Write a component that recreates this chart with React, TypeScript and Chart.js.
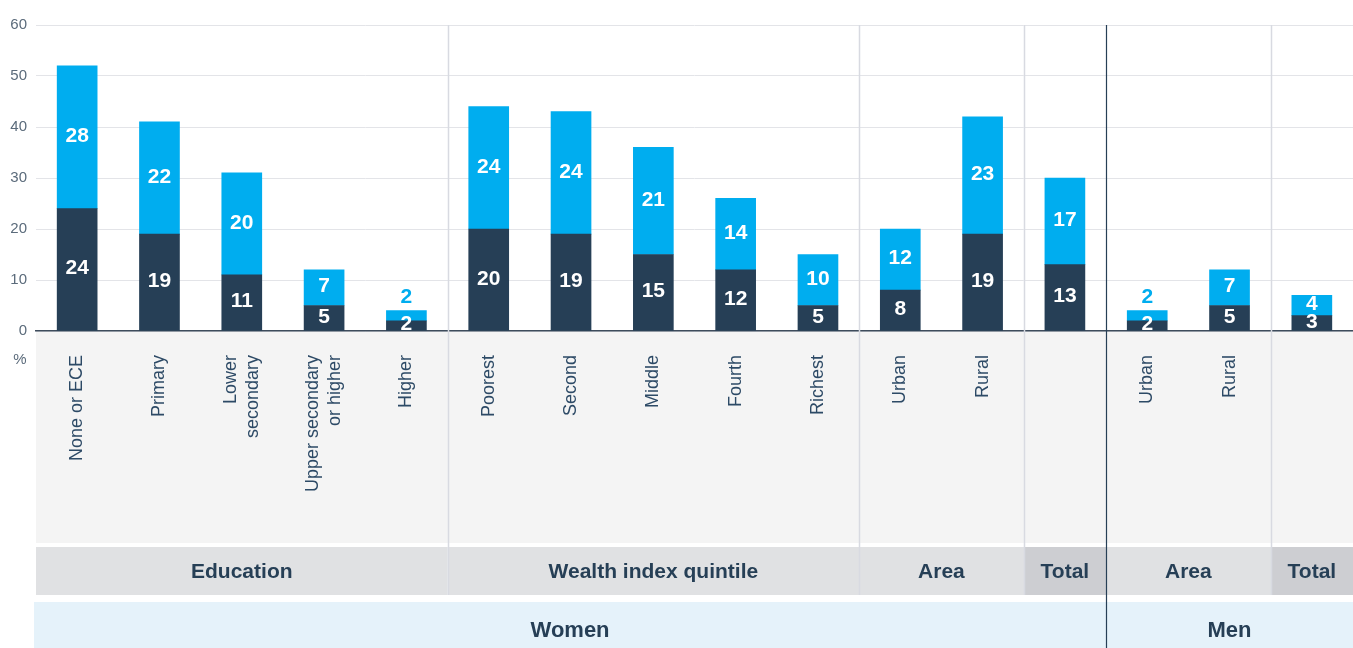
import React, { useEffect, useRef } from "react";
import { Chart, registerables } from "chart.js";

Chart.register(...registerables);

// ---------- data ----------
const categories: string[][] = [
  ["None or ECE"],
  ["Primary"],
  ["Lower", "secondary"],
  ["Upper secondary", "or higher"],
  ["Higher"],
  ["Poorest"],
  ["Second"],
  ["Middle"],
  ["Fourth"],
  ["Richest"],
  ["Urban"],
  ["Rural"],
  [""],
  ["Urban"],
  ["Rural"],
  [""],
];
const lowerValues = [24, 19, 11, 5, 2, 20, 19, 15, 12, 5, 8, 19, 13, 2, 5, 3];
const upperValues = [28, 22, 20, 7, 2, 24, 24, 21, 14, 10, 12, 23, 17, 2, 7, 4];
const yMin = 0;
const yMax = 60;
const yStep = 10;
const unitLabel = "%";

const groupLabels = ["Education", "Wealth index quintile", "Area", "Total", "Area", "Total"];
const groupStarts = [0, 5, 10, 12, 13, 15];
const groupEnds = [4, 9, 11, 12, 14, 15];
const groupIsTotal = [false, false, false, true, false, true];

const sexLabels = ["Women", "Men"];
const sexStarts = [0, 13];
const sexEnds = [12, 15];

// ---------- style ----------
const DARK = "#263f56";
const LIGHT = "#00adef";
const TEXT_NAVY = "#263f56";
const TICK_GREY = "#5b6b7b";
const NARROW = "'Liberation Sans Narrow', 'Liberation Sans', Arial, sans-serif";
const SANS = "'Liberation Sans', Arial, sans-serif";

const W = 1353;
const H = 648;

export default function App() {
  const canvasRef = useRef<HTMLCanvasElement | null>(null);

  useEffect(() => {
    document.body.style.margin = "0";
    let chart: Chart | null = null;
    let cancelled = false;

    const build = () => {
      if (cancelled || !canvasRef.current) return;
      const n = categories.length;

      const edges = (c: Chart) => {
        const x = c.scales.x;
        const area = c.chartArea;
        const half = (x.getPixelForValue(1) - x.getPixelForValue(0)) / 2;
        const left = (i: number) => (i === 0 ? area.left : x.getPixelForValue(i) - half);
        const right = (i: number) => (i === n - 1 ? area.right : x.getPixelForValue(i) + half);
        return { left, right };
      };

      const layoutPlugin = {
        id: "layoutBands",
        beforeDraw(c: Chart) {
          const { ctx, chartArea } = c;
          const { left, right } = edges(c);
          const labelTop = chartArea.bottom + 1;
          const labelBottom = chartArea.bottom + 212;
          const headTop = labelBottom + 4;
          const headBottom = headTop + 48;
          const sexTop = headBottom + 7;
          ctx.save();
          ctx.fillStyle = "#f4f4f4";
          ctx.fillRect(chartArea.left, labelTop, chartArea.right - chartArea.left, labelBottom - labelTop);
          for (let g = 0; g < groupLabels.length; g++) {
            ctx.fillStyle = groupIsTotal[g] ? "#cdced2" : "#e0e1e3";
            const l = left(groupStarts[g]);
            const r = right(groupEnds[g]);
            ctx.fillRect(l, headTop, r - l, headBottom - headTop);
          }
          ctx.fillStyle = "#e5f2fa";
          ctx.fillRect(chartArea.left - 2, sexTop, chartArea.right - chartArea.left + 2, H - sexTop);
          ctx.restore();
        },
        beforeDatasetsDraw(c: Chart) {
          const { ctx, chartArea } = c;
          const { left } = edges(c);
          const headBottom = chartArea.bottom + 212 + 4 + 48;
          ctx.save();
          for (let g = 1; g < groupLabels.length; g++) {
            const xPos = Math.round(left(groupStarts[g])) + 0.5;
            const isSexBoundary = sexStarts.indexOf(groupStarts[g]) > 0;
            ctx.beginPath();
            if (isSexBoundary) {
              ctx.strokeStyle = DARK;
              ctx.lineWidth = 1.2;
              ctx.moveTo(xPos, chartArea.top);
              ctx.lineTo(xPos, H);
            } else {
              ctx.strokeStyle = "#d8dae1";
              ctx.lineWidth = 1.5;
              ctx.moveTo(xPos, chartArea.top);
              ctx.lineTo(xPos, headBottom);
            }
            ctx.stroke();
          }
          ctx.restore();
        },
        afterDraw(c: Chart) {
          const { ctx, chartArea } = c;
          const x = c.scales.x;
          const { left, right } = edges(c);
          ctx.save();

          // value labels
          const metaLow = c.getDatasetMeta(0);
          const metaUp = c.getDatasetMeta(1);
          ctx.textAlign = "center";
          ctx.textBaseline = "middle";
          ctx.font = `bold 21px ${SANS}`;
          metaLow.data.forEach((bar: any, i: number) => {
            const p = bar.getProps(["x", "y", "base"], true);
            ctx.fillStyle = "#ffffff";
            ctx.fillText(String(lowerValues[i]), p.x, (p.y + p.base) / 2 - 1);
          });
          metaUp.data.forEach((bar: any, i: number) => {
            const p = bar.getProps(["x", "y", "base"], true);
            const h = p.base - p.y;
            if (h < 15) {
              ctx.fillStyle = LIGHT;
              ctx.fillText(String(upperValues[i]), p.x, p.y - 13);
            } else {
              ctx.fillStyle = "#ffffff";
              ctx.fillText(String(upperValues[i]), p.x, (p.y + p.base) / 2 - 1);
            }
          });

          // category labels (rotated)
          ctx.fillStyle = "#2d4a66";
          ctx.font = `18px ${SANS}`;
          ctx.textAlign = "right";
          ctx.textBaseline = "middle";
          const lh = 22;
          categories.forEach((lines, i) => {
            const px = x.getPixelForValue(i);
            ctx.save();
            ctx.translate(px, chartArea.bottom + 24);
            ctx.rotate(-Math.PI / 2);
            lines.forEach((line, j) => {
              ctx.fillText(line, 0, (j - (lines.length - 1) / 2) * lh);
            });
            ctx.restore();
          });

          // unit label
          ctx.fillStyle = TICK_GREY;
          ctx.font = `15px ${NARROW}`;
          ctx.textAlign = "center";
          ctx.fillText(unitLabel, 20, chartArea.bottom + 29);

          // group headers
          const headMid = chartArea.bottom + 212 + 4 + 24;
          ctx.fillStyle = TEXT_NAVY;
          ctx.font = `bold 21px ${SANS}`;
          for (let g = 0; g < groupLabels.length; g++) {
            const l = left(groupStarts[g]);
            const r = right(groupEnds[g]);
            ctx.fillText(groupLabels[g], (l + r) / 2, headMid + 1);
          }
          // sex headers
          const sexMid = chartArea.bottom + 212 + 4 + 48 + 7 + 23;
          ctx.font = `bold 22px ${SANS}`;
          for (let s = 0; s < sexLabels.length; s++) {
            const l = s === 0 ? chartArea.left - 2 : left(sexStarts[s]);
            const r = right(sexEnds[s]);
            ctx.fillText(sexLabels[s], (l + r) / 2, sexMid + 6);
          }
          ctx.restore();
        },
      };

      chart = new Chart(canvasRef.current, {
        type: "bar",
        data: {
          labels: categories.map((c) => c.join(" ")),
          datasets: [
            { label: "lower", data: lowerValues, backgroundColor: DARK, barThickness: 40 },
            { label: "upper", data: upperValues, backgroundColor: LIGHT, barThickness: 40 },
          ],
        },
        options: {
          responsive: false,
          animation: false,
          devicePixelRatio: 1,
          layout: { padding: { top: 25, right: 0, left: 0, bottom: 0 } },
          plugins: { legend: { display: false }, tooltip: { enabled: false } },
          scales: {
            x: {
              stacked: true,
              grid: { display: false },
              border: { display: true, color: "#3e4c5c", width: 1.5 },
              ticks: { display: false },
              afterFit: (s: any) => {
                s.height = H - 331 - 25 + 25;
              },
            },
            y: {
              stacked: true,
              min: yMin,
              max: yMax,
              ticks: {
                stepSize: yStep,
                padding: 9,
                color: TICK_GREY,
                font: { family: NARROW, size: 15 },
              },
              grid: { color: "#e3e4e8", drawTicks: false, lineWidth: 1 },
              border: { display: false },
              afterFit: (s: any) => {
                s.width = 36;
              },
            },
          },
        },
        plugins: [layoutPlugin],
      });
    };

    const fontsApi = (document as any).fonts;
    if (fontsApi && fontsApi.load) {
      Promise.all([
        fontsApi.load(`bold 21px ${SANS}`),
        fontsApi.load(`18px ${SANS}`),
        fontsApi.load(`15px ${NARROW}`),
      ])
        .catch(() => null)
        .then(build);
    } else {
      build();
    }

    return () => {
      cancelled = true;
      if (chart) chart.destroy();
    };
  }, []);

  return (
    <div style={{ width: W, height: H, position: "relative" }}>
      <canvas ref={canvasRef} width={W} height={H} style={{ display: "block" }} />
    </div>
  );
}
